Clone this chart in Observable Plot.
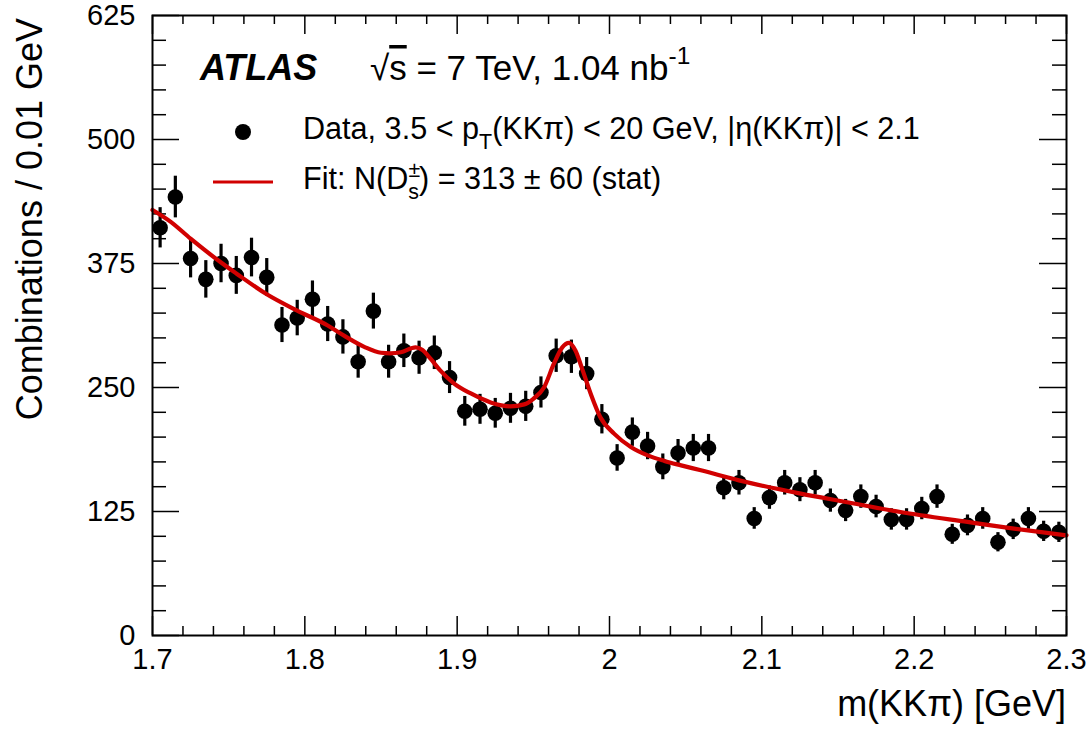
<!DOCTYPE html>
<html><head><meta charset="utf-8">
<script src="https://cdn.jsdelivr.net/npm/d3@7"></script>
<script src="https://cdn.jsdelivr.net/npm/@observablehq/plot@0.6"></script>
<style>body{margin:0;background:#fff} svg{display:block}</style>
</head><body><div id="chart"></div>
<script>
const binCenters = [1.705,1.715,1.725,1.735,1.745,1.755,1.765,1.775,1.785,1.795,
  1.805,1.815,1.825,1.835,1.845,1.855,1.865,1.875,1.885,1.895,
  1.905,1.915,1.925,1.935,1.945,1.955,1.965,1.975,1.985,1.995,
  2.005,2.015,2.025,2.035,2.045,2.055,2.065,2.075,2.085,2.095,
  2.105,2.115,2.125,2.135,2.145,2.155,2.165,2.175,2.185,2.195,
  2.205,2.215,2.225,2.235,2.245,2.255,2.265,2.275,2.285,2.295];
const counts = [411,442,380,359,375,363,381,361,313,320,
  339,314,301,276,327,276,287,280,285,260,
  226,228,224,229,231,245,282,281,264,218,
  179,205,191,170,184,189,189,149,154,118,
  139,154,147,154,136,126,140,130,117,117,
  128,140,102,111,118,94,107,118,105,104];
const errors = [20.3,21.0,19.5,18.9,19.4,19.1,19.5,19.0,17.7,17.9,
  18.4,17.7,17.3,16.6,18.1,16.6,16.9,16.7,16.9,16.1,
  15.0,15.1,15.0,15.1,15.2,15.7,16.8,16.8,16.2,14.8,
  13.4,14.3,13.8,13.0,13.6,13.7,13.7,12.2,12.4,10.9,
  11.8,12.4,12.1,12.4,11.7,11.2,11.8,11.4,10.8,10.8,
  11.3,11.8,10.1,10.5,10.9,9.7,10.3,10.9,10.2,10.2];
const fitMass = [1.700,1.712,1.725,1.745,1.755,1.775,1.795,1.815,1.826,1.839,1.850,1.856,1.863,1.8727,1.877,1.8825,1.889,1.898,1.909,1.922,1.935,1.944,1.950,1.957,1.9635,1.969,1.9734,1.9777,1.982,1.9876,1.994,2.003,2.014,2.025,2.036,2.047,2.060,2.085,2.1255,2.155,2.191,2.235,2.2655,2.300];
const fitValue = [429,417,400,376,365,344,327.5,312.5,302,291,285,284.5,285.5,290.5,288,279,267,254,244,235,231,233,238.6,250,274,290.5,295,287,269,244,220,203.5,190,181.6,176,171.5,166.5,156.4,143,134.6,124.5,114.5,107.8,101];
const xMajorTicks = [1.7,1.8,1.9,2.0,2.1,2.2,2.3];
const xTickLabels = ["1.7","1.8","1.9","2","2.1","2.2","2.3"];
const xMinorTicks = [1.72,1.74,1.76,1.78,1.82,1.84,1.86,1.88,1.92,1.94,1.96,1.98,2.02,2.04,2.06,2.08,2.12,2.14,2.16,2.18,2.22,2.24,2.26,2.28];
const yMajorTicks = [0,125,250,375,500,625];
const yMinorTicks = [25,50,75,100,150,175,200,225,275,300,325,350,400,425,450,475,525,550,575,600];

const W = 1092, H = 731, mL = 152, mR = 26, mT = 15, mB = 96;
const iW = W - mL - mR, iH = H - mT - mB;
const points = binCenters.map((x, i) => ({x, y: counts[i], lo: counts[i] - errors[i], hi: counts[i] + errors[i]}));
const fit = fitMass.map((x, i) => ({x, y: fitValue[i]}));
const tk = {stroke: "black", strokeWidth: 1.5};
const red = "#d10000";

const svg = Plot.plot({
  width: W, height: H,
  marginLeft: mL, marginRight: mR, marginTop: mT, marginBottom: mB,
  style: {fontFamily: "'Liberation Sans', Arial, sans-serif", fontSize: "29px", color: "black", background: "white"},
  x: {domain: [1.7, 2.3]},
  y: {domain: [0, 625]},
  marks: [
    Plot.tickX(xMajorTicks, {x: d => d, insetTop: iH - 19, ...tk}),
    Plot.tickX(xMajorTicks, {x: d => d, insetBottom: iH - 19, ...tk}),
    Plot.tickX(xMinorTicks, {x: d => d, insetTop: iH - 9, ...tk}),
    Plot.tickX(xMinorTicks, {x: d => d, insetBottom: iH - 9, ...tk}),
    Plot.tickY(yMajorTicks, {y: d => d, insetRight: iW - 27, ...tk}),
    Plot.tickY(yMajorTicks, {y: d => d, insetLeft: iW - 27, ...tk}),
    Plot.tickY(yMinorTicks, {y: d => d, insetRight: iW - 14, ...tk}),
    Plot.tickY(yMinorTicks, {y: d => d, insetLeft: iW - 14, ...tk}),
    Plot.axisX(xMajorTicks, {tickSize: 0, tickPadding: 13, label: null, tickFormat: d => xTickLabels[xMajorTicks.indexOf(d)], fontSize: 29}),
    Plot.axisY(yMajorTicks, {tickSize: 0, tickPadding: 17, label: null, fontSize: 29}),
    Plot.ruleX(points, {x: "x", y1: "lo", y2: "hi", stroke: "black", strokeWidth: 3.2}),
    Plot.dot(points, {x: "x", y: "y", r: 7.8, fill: "black", stroke: "none"}),
    Plot.line(fit, {x: "x", y: "y", stroke: red, strokeWidth: 4.2, curve: "monotone-x"}),
    Plot.frame({stroke: "black", strokeWidth: 2})
  ]
});

const s = d3.select(svg);
const ff = "'Liberation Sans', Arial, sans-serif";
s.append("text").attr("transform", "translate(42,18) rotate(-90)").attr("text-anchor", "end")
  .attr("font-family", ff).attr("font-size", 36).attr("fill", "black").text("Combinations / 0.01 GeV");
s.append("text").attr("x", 1066).attr("y", 716).attr("text-anchor", "end")
  .attr("font-family", ff).attr("font-size", 36).attr("fill", "black").text("m(KKπ) [GeV]");

s.append("text").attr("x", 200).attr("y", 80).attr("text-anchor", "start").attr("font-family", ff).attr("font-size", 36)
  .attr("font-weight", "bold").attr("font-style", "italic").attr("fill", "black").text("ATLAS");
const t2 = s.append("text").attr("x", 370).attr("y", 80).attr("text-anchor", "start").attr("font-family", ff).attr("font-size", 35).attr("fill", "black");
t2.append("tspan").text("√");
t2.append("tspan").style("text-decoration", "overline").text("s");
t2.append("tspan").text(" = 7 TeV, 1.04 nb");
t2.append("tspan").attr("font-size", "70%").attr("dy", "-0.65em").text("-1");

s.append("circle").attr("cx", 243).attr("cy", 132).attr("r", 8).attr("fill", "black");
const t3 = s.append("text").attr("x", 303).attr("y", 139).attr("text-anchor", "start").attr("font-family", ff).attr("font-size", 30.6).attr("fill", "black");
t3.append("tspan").text("Data, 3.5 < p");
t3.append("tspan").attr("font-size", "70%").attr("dy", "0.45em").text("T");
t3.append("tspan").attr("dy", "-0.315em").text("(KKπ) < 20 GeV, |η(KKπ)| < 2.1");

s.append("line").attr("x1", 213).attr("x2", 273).attr("y1", 182).attr("y2", 182).attr("stroke", red).attr("stroke-width", 3);
const t4 = s.append("text").attr("x", 303).attr("y", 189).attr("text-anchor", "start").attr("font-family", ff).attr("font-size", 30.6).attr("fill", "black");
t4.append("tspan").text("Fit: N(D");
t4.append("tspan").attr("font-size", "70%").attr("dy", "-0.55em").text("±");
t4.append("tspan").attr("font-size", "70%").attr("dx", "-0.55em").attr("dy", "1.0em").text("s");
t4.append("tspan").attr("dy", "-0.315em").text(") = 313 ± 60 (stat)");

document.getElementById("chart").appendChild(svg);
</script></body></html>
